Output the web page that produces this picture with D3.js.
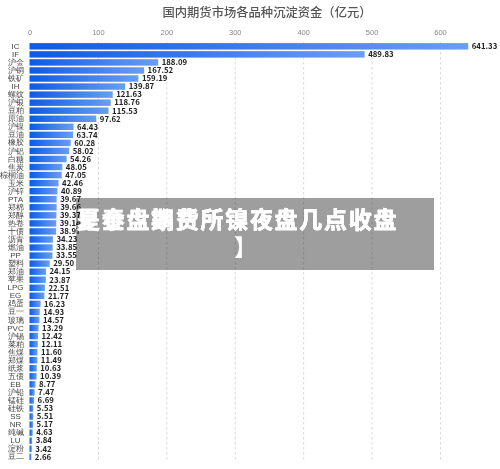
<!DOCTYPE html>
<html>
<head>
<meta charset="utf-8">
<script src="https://cdn.jsdelivr.net/npm/d3@7"></script>
<style>
  html, body { margin: 0; padding: 0; background: #fff; }
  svg { display: block; filter: blur(0.35px); font-family: "Noto Sans CJK SC", "DejaVu Sans", sans-serif; }
</style>
</head>
<body>
<svg id="chart" width="500" height="469"></svg>
<script>
const categories = ['IC','IF','沪金','沪铜','铁矿','IH','螺纹','沪银','豆粕','原油','沪镍','豆油','橡胶','沪铝','白糖','焦炭','棕榈油','玉米','沪锌','PTA','郑棉','郑醇','热卷','十债','沥青','燃油','PP','塑料','郑油','苹果','LPG','EG','鸡蛋','豆一','玻璃','PVC','沪锡','菜粕','焦煤','郑煤','纸浆','五债','EB','沪铅','锰硅','硅铁','SS','NR','纯碱','LU','淀粉','豆二'];
const values = [641.33,489.83,188.09,167.52,159.19,139.87,121.63,118.76,115.53,97.62,64.43,63.74,60.28,58.02,54.26,48.05,47.05,42.46,40.89,39.67,39.66,39.37,39.14,38.97,34.23,33.85,33.55,29.50,24.15,23.87,22.51,21.77,16.23,14.93,14.57,13.29,12.42,12.11,11.60,11.49,10.63,10.39,8.77,7.47,6.69,5.53,5.51,5.17,4.63,3.84,3.42,2.66];
const xTicks = [0,100,200,300,400,500,600];
const chartTitle = '国内期货市场各品种沉淀资金（亿元）';
const bannerLines = ['是泰盘期费所镍夜盘几点收盘', '夏金盘鐫货所镍夜盘几点收盘'];
const bannerTail = '】';

const svg = d3.select('#chart');

const x = d3.scaleLinear().domain([0, 600]).range([29.5, 440]);
const y = d3.scaleBand().domain(categories).range([42.3, 460.8]).paddingInner(0.2).paddingOuter(0.1);

// bar gradient, dark at the axis and lighter at the tip
const grad = svg.append('defs').append('linearGradient').attr('id', 'barFill');
grad.append('stop').attr('offset', '0%').attr('stop-color', '#0b5be6');
grad.append('stop').attr('offset', '100%').attr('stop-color', '#6a9df5');

svg.append('text')
  .attr('x', 267).attr('y', 16.5)
  .attr('text-anchor', 'middle')
  .attr('font-size', 12.3)
  .attr('font-weight', 500)
  .attr('fill', '#555')
  .text(chartTitle);

// top axis, ticks stretched down as the dashed grid
const xAxis = svg.append('g')
  .attr('transform', 'translate(0,42)')
  .call(d3.axisTop(x).tickValues(xTicks).tickFormat(d3.format('d')).tickSize(-418.5).tickPadding(7));
xAxis.select('.domain').remove();
xAxis.selectAll('line').attr('stroke', '#d8d8d8').attr('stroke-dasharray', '2.5,2.5');
xAxis.selectAll('text').attr('fill', '#888').attr('font-size', 7.5);
xAxis.selectAll('.tick').filter(d => d === 0).select('line').remove();

const yAxis = svg.append('g')
  .attr('transform', 'translate(15.5,0)')
  .call(d3.axisLeft(y).tickSize(0).tickPadding(0));
yAxis.select('.domain').remove();
yAxis.selectAll('text')
  .attr('text-anchor', 'middle')
  .attr('fill', '#444')
  .attr('font-size', 8)
  .attr('x', function () { return this.getComputedTextLength() > 20 ? -3.5 : 0; });

svg.append('g').selectAll('rect')
  .data(values)
  .join('rect')
  .attr('x', x(0))
  .attr('y', (d, i) => y(categories[i]))
  .attr('width', d => x(d) - x(0))
  .attr('height', y.bandwidth())
  .attr('fill', 'url(#barFill)');

svg.append('g').selectAll('text')
  .data(values)
  .join('text')
  .attr('x', d => x(d) + 3.5)
  .attr('y', (d, i) => y(categories[i]) + y.bandwidth() / 2)
  .attr('dy', '0.36em')
  .attr('font-size', 7.8)
  .attr('font-weight', 700)
  .attr('fill', '#222')
  .text(d => d.toFixed(2));

// grey banner laid over the chart
svg.append('rect')
  .attr('x', 76).attr('y', 198)
  .attr('width', 358).attr('height', 72)
  .attr('fill', '#000').attr('fill-opacity', 0.38);

svg.append('g').selectAll('text')
  .data(bannerLines)
  .join('text')
  .attr('x', 77).attr('y', 228)
  .attr('font-size', 23)
  .attr('font-weight', 700)
  .attr('letter-spacing', 1.7)
  .attr('fill', '#fff')
  .attr('stroke', '#fff')
  .attr('stroke-width', 0.4)
  .text(d => d);

svg.append('text')
  .attr('x', 234).attr('y', 256)
  .attr('font-size', 23)
  .attr('font-weight', 700)
  .attr('fill', '#fff')
  .text(bannerTail);
</script>
</body>
</html>
